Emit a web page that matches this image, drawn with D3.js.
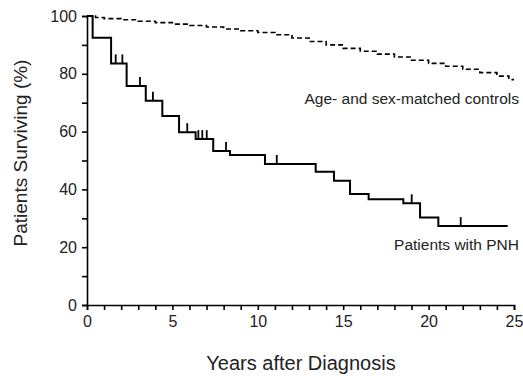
<!DOCTYPE html>
<html><head><meta charset="utf-8">
<script src="https://cdn.jsdelivr.net/npm/d3@7"></script>
<style>body{margin:0;background:#fff}svg{display:block}text{font-family:"Liberation Sans",Arial,sans-serif;fill:#222}</style>
</head><body><svg id="c" width="523" height="376"></svg>
<script>
// PNH patients: step times (years) and survival (%)
const pnhYears = [0, 0.33, 1.41, 2.32, 3.44, 4.41, 5.39, 6.36, 7.39, 8.37, 10.42, 13.39, 14.46, 15.40, 16.49, 18.52, 19.50, 20.57, 24.63];
const pnhSurv  = [100, 92.5, 83.6, 75.8, 70.7, 65.4, 59.8, 57.4, 53.3, 51.9, 48.8, 46.1, 43.0, 38.4, 36.6, 35.2, 30.3, 27.3, 27.3];
// censor marks (years)
const censorYears = [1.68, 2.07, 3.10, 3.86, 5.87, 6.52, 6.75, 7.01, 8.14, 11.11, 19.01, 21.88];
// age- and sex-matched controls
const ctrlYears = [0, 0.5, 1, 2, 3, 4, 5, 6, 7, 8, 9, 10, 11, 12, 13, 14, 15, 16, 17, 18, 19, 20, 21, 22, 23, 24, 24.7, 25];
const ctrlSurv  = [100, 99.5, 99.1, 98.7, 98.2, 97.7, 97.2, 96.7, 96.2, 95.5, 94.9, 94.3, 93.5, 92.4, 91.2, 90.0, 88.8, 87.8, 86.8, 85.8, 84.7, 83.6, 82.6, 81.6, 80.4, 79.2, 78.0, 78.0];
const xTicks = [0, 5, 10, 15, 20, 25];
const yTicks = [0, 20, 40, 60, 80, 100];

const svg = d3.select("#c");
const x = d3.scaleLinear().domain([0, 25]).range([87, 514]);
const y = d3.scaleLinear().domain([0, 100]).range([305, 16]);

function stepVal(years, vals, t){ let v = vals[0]; for(let i=0;i<years.length;i++){ if(years[i] <= t) v = vals[i]; } return v; }

// axes
const xAxis = d3.axisBottom(x).tickValues(d3.range(0, 26, 1)).tickSize(5).tickPadding(6)
  .tickFormat(d => xTicks.includes(d) ? d : "");
const gx = svg.append("g").attr("transform", "translate(0,305)").call(xAxis);
const yAxis = d3.axisLeft(y).tickValues(d3.range(0, 101, 10)).tickSize(5).tickPadding(5)
  .tickFormat(d => yTicks.includes(d) ? d : "");
const gy = svg.append("g").attr("transform", "translate(87,0)").call(yAxis);
[gx, gy].forEach(g => {
  g.select(".domain").attr("stroke", "#000").attr("stroke-width", 1.6);
  g.selectAll(".tick line").attr("stroke", "#000").attr("stroke-width", 1.6);
  g.selectAll(".tick text").attr("font-size", 16).attr("fill", "#222").attr("font-family", '"Liberation Sans",Arial,sans-serif');
});

// controls (dashed step)
const ctrl = ctrlYears.map((t, i) => [t, ctrlSurv[i]]);
svg.append("path").datum(ctrl)
  .attr("d", d3.line().x(d => x(d[0])).y(d => y(d[1])).curve(d3.curveStepAfter))
  .attr("fill", "none").attr("stroke", "#000").attr("stroke-width", 1.6).attr("stroke-dasharray", "5,3");

// PNH (solid step)
const pnh = pnhYears.map((t, i) => [t, pnhSurv[i]]);
svg.append("path").datum(pnh)
  .attr("d", d3.line().x(d => x(d[0])).y(d => y(d[1])).curve(d3.curveStepAfter))
  .attr("fill", "none").attr("stroke", "#000").attr("stroke-width", 2);

// censor marks
svg.selectAll("line.cens").data(censorYears).enter().append("line")
  .attr("x1", d => x(d)).attr("x2", d => x(d))
  .attr("y1", d => y(stepVal(pnhYears, pnhSurv, d)))
  .attr("y2", d => y(stepVal(pnhYears, pnhSurv, d)) - 9)
  .attr("stroke", "#000").attr("stroke-width", 1.8);

// labels
svg.append("text").attr("x", 519).attr("y", 104).attr("text-anchor", "end").attr("font-size", 15.5).text("Age- and sex-matched controls");
svg.append("text").attr("x", 519).attr("y", 250).attr("text-anchor", "end").attr("font-size", 15.5).text("Patients with PNH");
svg.append("text").attr("x", 301).attr("y", 370).attr("text-anchor", "middle").attr("font-size", 20).text("Years after Diagnosis");
svg.append("text").attr("transform", "translate(27,153) rotate(-90)").attr("text-anchor", "middle").attr("font-size", 19).text("Patients Surviving (%)");
</script></body></html>
